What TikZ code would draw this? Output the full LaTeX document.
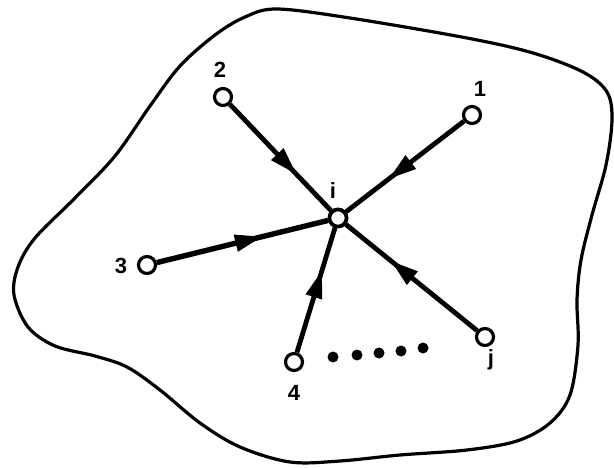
\documentclass[tikz,border=0pt]{standalone}
\usepackage{fontspec}
\setmainfont{Liberation Sans}
\usetikzlibrary{arrows.meta,decorations.markings}
\begin{document}
\begin{tikzpicture}[x=1pt,y=-1pt,
  vert/.style={circle,draw,line width=3.2pt,minimum size=17pt,inner sep=0pt,fill=white},
  hub/.style={circle,draw,line width=3.6pt,minimum size=17pt,inner sep=0pt,fill=white},
  lbl/.style={font=\fontsize{22}{22}\selectfont\bfseries,inner sep=0pt},
  flow/.style={line width=4.8pt,decoration={markings,mark=at position #1 with {\arrow{Triangle[length=28pt,width=16pt]}}},postaction={decorate}},
  flow/.default=0.6,
  outline/.style={line width=3.2pt,line join=round}]
\useasboundingbox (0,0) rectangle (614,468);
% region outline
\draw[outline] plot[smooth cycle,tension=0.55] coordinates {
 (277,9) (350,18) (467,38) (533,53) (583,72) (607,92) (612,120) (606,165)
 (592,215) (581,260) (577,300) (578,345) (570,395) (550,423) (517,441)
 (467,450) (400,455) (340,461) (290,462) (240,447) (200,423) (160,390)
 (127,367) (95,356) (55,346) (28,327) (14,295) (18,267) (35,238)
 (75,198) (115,156) (150,106) (180,66) (215,35) (245,17)};
% vertices
\node[hub]  (i) at (338,218) {};
\node[vert] (n2) at (223,97) {};
\node[vert] (n1) at (472,115) {};
\node[vert] (n3) at (147,265) {};
\node[vert] (n4) at (294,362) {};
\node[vert] (nj) at (485,337) {};
% labels
\node[lbl] (l2) at (220,70) {2};
\node[lbl] (l1) at (480,89) {1};
\node[lbl] (li) at (333,191) {i};
\node[lbl] (l3) at (121,266) {3};
\node[lbl] (l4) at (294,393) {4};
\node[lbl] (lj) at (491,360) {j};
% edges
\draw[flow=0.66] (n2) -- (i);
\draw[flow=0.64] (n1) -- (i);
\draw[flow=0.62,line width=5.4pt] (n3) -- (i);
\draw[flow=0.66] (n4) -- (i);
\draw[flow=0.66] (nj) -- (i);
\node[hub] at (i) {};
% dots
\foreach \x/\y in {333/357,357/355,379/353,401/351,423/348}
  \fill (\x,\y) circle (5.5pt);
\end{tikzpicture}
\end{document}
